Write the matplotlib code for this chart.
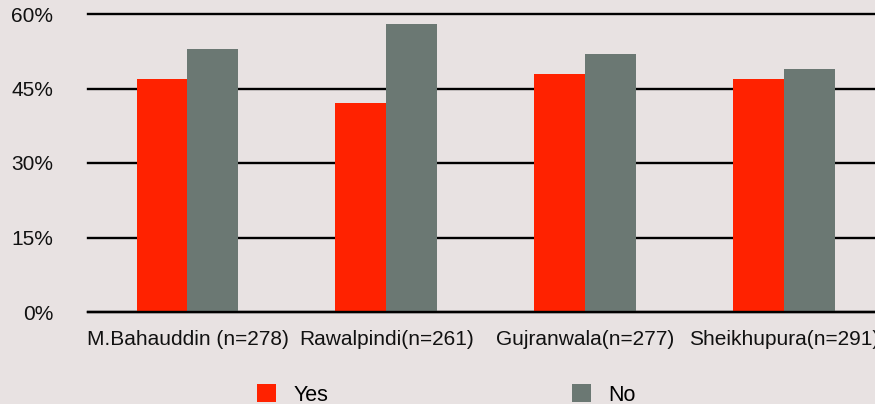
# Gráfico de barras agrupadas: Yes / No por distrito
import matplotlib.pyplot as plt
import numpy as np

plt.rcParams['font.family'] = ['Liberation Sans', 'DejaVu Sans']

# Datos
districts = ['M.Bahauddin (n=278)', 'Rawalpindi(n=261)', 'Gujranwala(n=277)', 'Sheikhupura(n=291)']
yes_pct = [47, 42, 48, 47]
no_pct = [53, 58, 52, 49]
y_ticks = [0, 15, 30, 45, 60]
y_labels = ['0%', '15%', '30%', '45%', '60%']

bg = '#e8e2e2'
red = '#ff2200'
gray = '#6b7873'

fig = plt.figure(figsize=(8.75, 4.04), dpi=100, facecolor=bg)
ax = fig.add_axes([88 / 875, 1 - 312 / 404, (875 - 88) / 875, (312 - 14) / 404])
ax.set_facecolor(bg)

x = np.arange(len(districts))
w = 0.256
ax.bar(x - w / 2, yes_pct, w, color=red, label='Yes', zorder=2)
ax.bar(x + w / 2, no_pct, w, color=gray, label='No', zorder=2)

ax.set_xlim(-0.5, 3.457)
ax.set_ylim(0, 60)
ax.set_yticks(y_ticks)
ax.set_yticklabels(y_labels)
ax.set_xticks(x)
ax.set_xticklabels(districts)

# Líneas horizontales de la cuadrícula
ax.grid(axis='y', color='black', linewidth=1.7, zorder=1)
ax.set_axisbelow(True)
for line in ax.get_ygridlines():
    line.set_clip_on(False)
ax.axhline(0, color='black', linewidth=1.7, zorder=3, clip_on=False)

for s in ax.spines.values():
    s.set_visible(False)
ax.tick_params(axis='both', length=0, labelsize=15, colors='#111111')
ax.tick_params(axis='y', pad=25)
ax.tick_params(axis='x', pad=13)

fig.legend(loc='center', bbox_to_anchor=(0.51, 1 - 395 / 404), ncol=2,
           frameon=False, fontsize=15.5, handlelength=0.9, handleheight=0.9,
           handletextpad=0.8, columnspacing=11.3, borderpad=0)

fig.savefig('out.png', dpi=100, facecolor=bg)
